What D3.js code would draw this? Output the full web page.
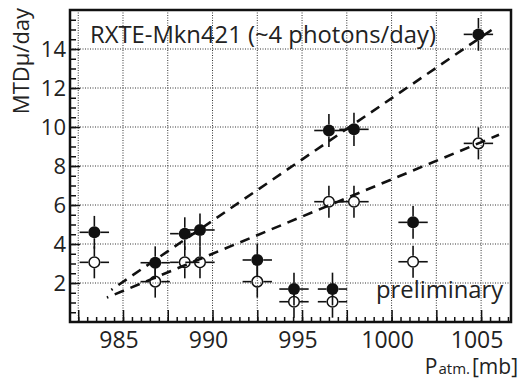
<!DOCTYPE html>
<html>
<head>
<meta charset="utf-8">
<script src="https://cdn.jsdelivr.net/npm/d3@7"></script>
<style>
  html, body { margin: 0; padding: 0; background: #fff; }
  svg { display: block; font-family: "Open Sans", "Noto Sans", sans-serif; }
</style>
</head>
<body>
<svg id="chart" width="519" height="381"></svg>
<script>
// Atmospheric pressure of each run [mb]
const pressure = [983.4, 986.8, 988.45, 989.3, 992.5, 994.55, 996.7, 996.5, 997.9, 1001.2, 1004.85];
// Muon rate, all events (filled markers)
const rateAll = [4.6, 3.04, 4.53, 4.72, 3.18, 1.69, 1.69, 9.82, 9.88, 5.11, 14.75];
// Muon rate, selected events (open markers)
const rateSel = [3.06, 2.07, 3.06, 3.06, 2.07, 1.04, 1.04, 6.17, 6.17, 3.09, 9.16];
// Uncertainties
const pressureErr = [0.82, 0.82, 0.82, 0.82, 0.82, 0.82, 0.82, 0.82, 0.82, 0.82, 0.82];
const rateAllErr = [0.84, 0.84, 0.84, 0.84, 0.84, 0.84, 0.84, 0.85, 0.85, 0.84, 0.84];
const rateSelErr = [0.82, 0.82, 0.82, 0.82, 0.82, 0.82, 0.82, 0.82, 0.82, 0.82, 0.82];
// Linear trends (end points)
const trendAllX = [984.35, 1005.7];
const trendAllY = [1.65, 15.05];
const trendSelX = [984.1, 1006.0];
const trendSelY = [1.25, 9.6];
// Axis ticks
const xLabelTicks = [985, 990, 995, 1000, 1005];
const xGridTicks = [982.5, 985, 987.5, 990, 992.5, 995, 997.5, 1000, 1002.5, 1005];
const yLabelTicks = [2, 4, 6, 8, 10, 12, 14];

const svg = d3.select("#chart");
const fLeft = 70, fRight = 511, fTop = 10, fBottom = 322;

const x = d3.scaleLinear().domain([982.04, 1006.67]).range([fLeft, fRight]);
const y = d3.scaleLinear().domain([0, 16]).range([fBottom, fTop]);

// dotted grid
const grid = svg.append("g")
  .attr("stroke", "#333").attr("stroke-width", 1).attr("stroke-dasharray", "1,1.5");
grid.selectAll("line.v").data(xGridTicks).join("line").attr("class", "v")
  .attr("x1", d => x(d)).attr("x2", d => x(d)).attr("y1", fTop).attr("y2", fBottom);
grid.selectAll("line.h").data(yLabelTicks).join("line").attr("class", "h")
  .attr("y1", d => y(d)).attr("y2", d => y(d)).attr("x1", fLeft).attr("x2", fRight);

// trend lines
function trend(xs, ys) {
  svg.append("line")
    .attr("x1", x(xs[0])).attr("y1", y(ys[0]))
    .attr("x2", x(xs[1])).attr("y2", y(ys[1]))
    .attr("stroke", "#111").attr("stroke-width", 2.6)
    .attr("stroke-dasharray", "10,7").attr("stroke-dashoffset", 8.5);
}
trend(trendAllX, trendAllY);
trend(trendSelX, trendSelY);

// error bars drawn outside the marker
const r = 6;
function errorBars(vals, yErr) {
  const g = svg.append("g").attr("stroke", "#111").attr("stroke-width", 1.6);
  pressure.forEach((p, i) => {
    const cx = x(p), cy = y(vals[i]);
    const x0 = x(p - pressureErr[i]), x1 = x(p + pressureErr[i]);
    const y0 = y(vals[i] - yErr[i]), y1 = y(vals[i] + yErr[i]);
    g.append("line").attr("x1", x0).attr("x2", cx - r).attr("y1", cy).attr("y2", cy);
    g.append("line").attr("x1", cx + r).attr("x2", x1).attr("y1", cy).attr("y2", cy);
    g.append("line").attr("x1", cx).attr("x2", cx).attr("y1", y1).attr("y2", cy - r);
    g.append("line").attr("x1", cx).attr("x2", cx).attr("y1", cy + r).attr("y2", y0);
  });
}
errorBars(rateAll, rateAllErr);
errorBars(rateSel, rateSelErr);

svg.append("g").selectAll("circle").data(pressure).join("circle")
  .attr("cx", d => x(d)).attr("cy", (d, i) => y(rateSel[i])).attr("r", r - 0.7)
  .attr("fill", "none").attr("stroke", "#111").attr("stroke-width", 1.5);
svg.append("g").selectAll("circle").data(pressure).join("circle")
  .attr("cx", d => x(d)).attr("cy", (d, i) => y(rateAll[i])).attr("r", r)
  .attr("fill", "#111");

// axes with ticks pointing into the frame
const xAxis = d3.axisTop(x).tickValues(d3.range(982.5, 1006.6, 0.5))
  .tickSize(5).tickFormat("");
svg.append("g").attr("transform", `translate(0,${fBottom})`).call(xAxis)
  .call(g => g.select(".domain").remove())
  .call(g => g.selectAll("line").attr("stroke", "#111").attr("stroke-width", 1.5));
const xMajor = d3.axisTop(x).tickValues(xGridTicks).tickSize(12).tickFormat("");
svg.append("g").attr("transform", `translate(0,${fBottom})`).call(xMajor)
  .call(g => g.select(".domain").remove())
  .call(g => g.selectAll("line").attr("stroke", "#111").attr("stroke-width", 1.5));

const yMinor = d3.axisRight(y).tickValues(d3.range(0.5, 16, 0.5)).tickSize(6).tickFormat("");
svg.append("g").attr("transform", `translate(${fLeft},0)`).call(yMinor)
  .call(g => g.select(".domain").remove())
  .call(g => g.selectAll("line").attr("stroke", "#111").attr("stroke-width", 1.5));
const yMajor = d3.axisRight(y).tickValues(yLabelTicks).tickSize(10).tickFormat("");
svg.append("g").attr("transform", `translate(${fLeft},0)`).call(yMajor)
  .call(g => g.select(".domain").remove())
  .call(g => g.selectAll("line").attr("stroke", "#111").attr("stroke-width", 1.5));

// frame
svg.append("rect").attr("x", fLeft).attr("y", fTop)
  .attr("width", fRight - fLeft).attr("height", fBottom - fTop)
  .attr("fill", "none").attr("stroke", "#111").attr("stroke-width", 2.5);

// tick labels
svg.append("g").selectAll("text").data(xLabelTicks).join("text")
  .attr("x", d => x(d) - 4).attr("y", 348)
  .attr("text-anchor", "middle").attr("font-size", 23).attr("fill", "#222")
  .text(d => d);
svg.append("g").selectAll("text").data(yLabelTicks).join("text")
  .attr("x", 66).attr("y", d => y(d) + 7.5)
  .attr("text-anchor", "end").attr("font-size", 22).attr("fill", "#222")
  .text(d => d);

// axis titles
svg.append("text")
  .attr("transform", "translate(29,61) rotate(-90)")
  .attr("text-anchor", "middle").attr("font-size", 22).attr("fill", "#222")
  .text("MTDμ/day");
const xt = svg.append("text").attr("x", 518).attr("y", 374)
  .attr("text-anchor", "end").attr("fill", "#222").attr("font-size", 21);
xt.append("tspan").text("P");
xt.append("tspan").attr("font-size", 15).attr("dx", 1).text("atm.");
xt.append("tspan").attr("dx", 2).text("[mb]");

// annotations
svg.append("text").attr("x", 90).attr("y", 43)
  .attr("font-size", 23.8).attr("fill", "#222")
  .text("RXTE-Mkn421 (~4 photons/day)");
svg.append("text").attr("x", 376).attr("y", 298)
  .attr("font-size", 23.8).attr("fill", "#222")
  .text("preliminary");
</script>
</body>
</html>
